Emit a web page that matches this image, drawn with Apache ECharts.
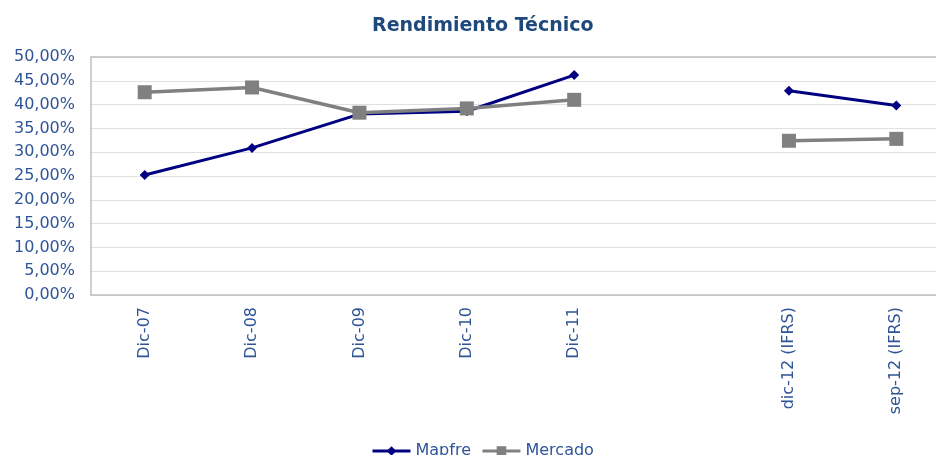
<!DOCTYPE html>
<html><head><meta charset="utf-8">
<script src="https://cdn.jsdelivr.net/npm/echarts@6/dist/echarts.min.js"></script>
<style>html,body{margin:0;padding:0;background:#fff;overflow:hidden;width:936px;height:455px}#c{width:950px;height:455px}</style>
</head><body><div id="c"></div>
<script>
const categories = ['Dic-07','Dic-08','Dic-09','Dic-10','Dic-11','','dic-12 (IFRS)','sep-12 (IFRS)'];
const mapfre = [25.2, 30.9, 38.0, 38.6, 46.2, null, 42.9, 39.8];
const mercado = [42.6, 43.6, 38.3, 39.2, 41.0, null, 32.4, 32.8];
const yTicks = {min: 0, max: 50, interval: 5};

const fmt = v => v.toFixed(2).replace('.', ',') + '%';
const chart = echarts.init(document.getElementById('c'));
chart.setOption({
  animation: false,
  title: {text: 'Rendimiento Técnico', left: 367, top: 12,
    textStyle: {fontFamily: 'DejaVu Sans', fontSize: 19, fontWeight: 'bold', color: '#1F497D'}},
  grid: {left: 91, right: 0, top: 57, height: 238},
  legend: {top: 438, left: 366, itemWidth: 38, itemHeight: 12, itemGap: 10,
    lineStyle: {width: 3},
    textStyle: {fontFamily: 'DejaVu Sans', fontSize: 16, color: '#2F5597'},
    data: ['Mapfre','Mercado']},
  xAxis: [
    {type: 'category', data: categories, boundaryGap: true,
     axisLine: {lineStyle: {color: '#BFBFBF', width: 1.5}}, axisTick: {show: false},
     axisLabel: {rotate: 90, interval: 0, margin: 12, fontFamily: 'DejaVu Sans', fontSize: 16, color: '#2F5597'}},
    {type: 'category', data: categories, position: 'top', boundaryGap: true,
     axisLine: {lineStyle: {color: '#BFBFBF', width: 1.5}}, axisTick: {show: false}, axisLabel: {show: false}}
  ],
  yAxis: {type: 'value', min: yTicks.min, max: yTicks.max, interval: yTicks.interval,
    axisLine: {show: true, lineStyle: {color: '#BFBFBF', width: 1.5}}, axisTick: {show: false},
    splitLine: {lineStyle: {color: '#E0E0E0'}},
    axisLabel: {formatter: fmt, margin: 16, fontFamily: 'DejaVu Sans', fontSize: 16, color: '#2F5597'}},
  series: [
    {name: 'Mapfre', type: 'line', data: mapfre, connectNulls: false,
     symbol: 'diamond', symbolSize: 10, lineStyle: {color: '#000080', width: 3},
     itemStyle: {color: '#000080'}},
    {name: 'Mercado', type: 'line', data: mercado, connectNulls: false,
     symbol: 'rect', symbolSize: 14, lineStyle: {color: '#808080', width: 3.5},
     itemStyle: {color: '#808080'}}
  ]
});
</script></body></html>
